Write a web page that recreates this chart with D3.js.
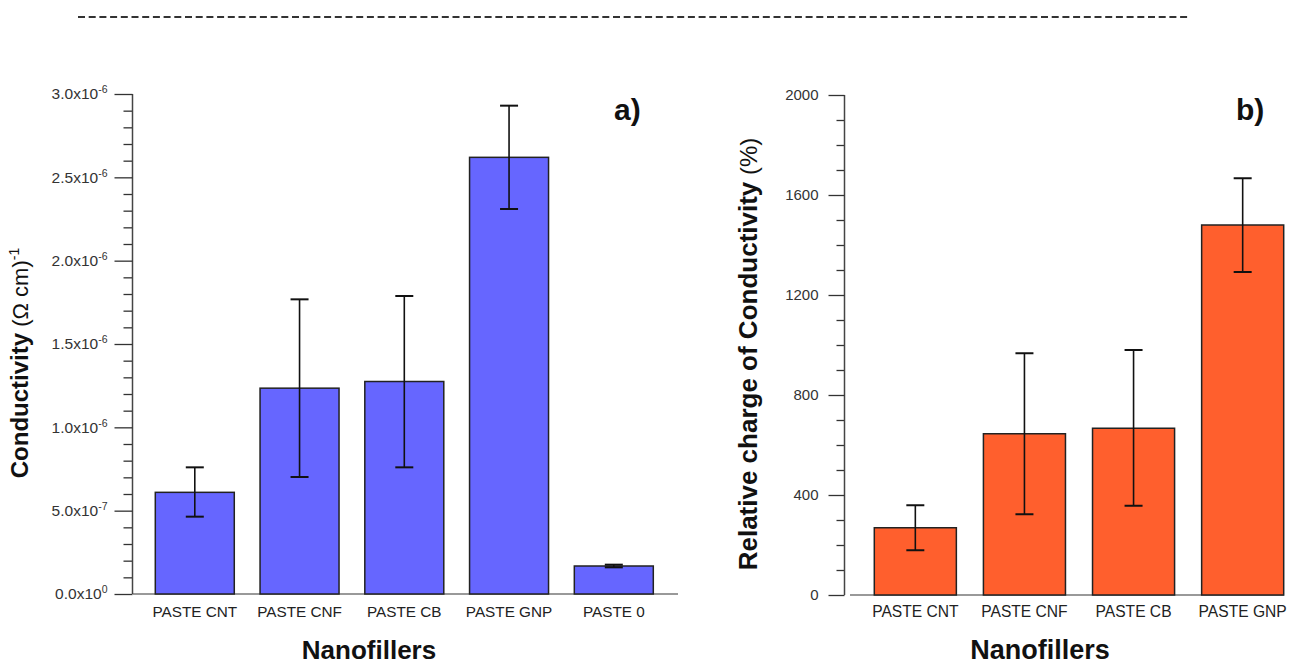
<!DOCTYPE html>
<html>
<head>
<meta charset="utf-8">
<script src="https://cdn.jsdelivr.net/npm/d3@7"></script>
<style>
  body { margin: 0; background: #fff; }
  text { font-family: Arial, "Liberation Sans", sans-serif; }
</style>
</head>
<body>
<svg id="chart" width="1299" height="666"></svg>
<script>
// panel a) conductivity
const leftCats = ["PASTE CNT", "PASTE CNF", "PASTE CB", "PASTE GNP", "PASTE 0"];
const leftVals = [0.61e-6, 1.235e-6, 1.275e-6, 2.62e-6, 0.168e-6];
const leftLow  = [0.464e-6, 0.702e-6, 0.760e-6, 2.31e-6, 0.160e-6];
const leftHigh = [0.760e-6, 1.768e-6, 1.788e-6, 2.93e-6, 0.176e-6];
const leftTicks = [0, 0.5e-6, 1.0e-6, 1.5e-6, 2.0e-6, 2.5e-6, 3.0e-6];
const leftTickBase = ["0.0x10", "5.0x10", "1.0x10", "1.5x10", "2.0x10", "2.5x10", "3.0x10"];
const leftTickExp  = ["0", "-7", "-6", "-6", "-6", "-6", "-6"];

// panel b) relative change
const rightCats = ["PASTE CNT", "PASTE CNF", "PASTE CB", "PASTE GNP"];
const rightVals = [269, 645, 667, 1480];
const rightLow  = [179, 323, 357, 1292];
const rightHigh = [359, 967, 980, 1667];
const rightTicks = [0, 400, 800, 1200, 1600, 2000];

const svg = d3.select("#chart");

// dashed separator at the top
svg.append("line")
    .attr("x1", 78).attr("x2", 1188)
    .attr("y1", 17).attr("y2", 17)
    .attr("stroke", "#333")
    .attr("stroke-width", 2)
    .attr("stroke-dasharray", "7,3.7");

function drawPanel(cfg) {
    const g = svg.append("g");

    const x = d3.scaleBand()
        .domain(cfg.cats)
        .range(cfg.xRange)
        .paddingInner(cfg.padInner)
        .paddingOuter(0);

    const y = d3.scaleLinear()
        .domain(cfg.yDomain)
        .range(cfg.yRange);

    // baseline
    g.append("line")
        .attr("x1", cfg.baseX[0]).attr("x2", cfg.baseX[1])
        .attr("y1", y(0)).attr("y2", y(0))
        .attr("stroke", "#777")
        .attr("stroke-width", 1.5);

    // minor ticks
    g.append("g")
        .attr("transform", `translate(${cfg.axisX},0)`)
        .call(d3.axisLeft(y).tickValues(cfg.minor).tickSize(cfg.minorLen).tickFormat(""))
        .call(a => a.select(".domain").remove())
        .call(a => a.selectAll("line").attr("stroke", "#333").attr("stroke-width", 1.3));

    // major ticks + labels
    const ax = g.append("g")
        .attr("transform", `translate(${cfg.axisX},0)`)
        .call(d3.axisLeft(y).tickValues(cfg.ticks).tickSize(cfg.majorLen)
            .tickPadding(cfg.labelPad).tickSizeOuter(0).tickFormat(d3.format("d")))
        .call(a => a.select(".domain").attr("stroke", "#444").attr("stroke-width", 1.5)
            .attr("d", `M0,${y(0)}V${y(cfg.yDomain[1])}`))
        .call(a => a.selectAll("line").attr("stroke", "#333").attr("stroke-width", 1.3));

    ax.attr("font-size", cfg.tickSize)
      .attr("font-family", "Arial, 'Liberation Sans', sans-serif");
    ax.selectAll("text").attr("fill", "#333");

    if (cfg.expLabels) {
        ax.selectAll(".tick text").each(function(d, i) {
            const t = d3.select(this).text("");
            t.append("tspan").text(cfg.tickBase[i]);
            t.append("tspan").attr("font-size", 10.5).attr("dy", -6).text(cfg.tickExp[i]);
        });
    }

    // bars
    g.selectAll("rect.bar")
        .data(cfg.vals)
        .join("rect")
        .attr("class", "bar")
        .attr("x", (d, i) => x(cfg.cats[i]))
        .attr("width", x.bandwidth())
        .attr("y", d => y(d))
        .attr("height", d => y(0) - y(d))
        .attr("fill", cfg.color)
        .attr("stroke", "#222")
        .attr("stroke-width", 1.5);

    // error bars
    const cap = 9;
    cfg.vals.forEach((v, i) => {
        const cx = x(cfg.cats[i]) + x.bandwidth() / 2;
        const lo = y(cfg.low[i]), hi = y(cfg.high[i]);
        g.append("line").attr("x1", cx).attr("x2", cx).attr("y1", lo).attr("y2", hi)
            .attr("stroke", "#111").attr("stroke-width", 1.6);
        [lo, hi].forEach(yy => {
            g.append("line").attr("x1", cx - cap).attr("x2", cx + cap).attr("y1", yy).attr("y2", yy)
                .attr("stroke", "#111").attr("stroke-width", 2);
        });
    });

    // category labels
    g.selectAll("text.cat")
        .data(cfg.cats)
        .join("text")
        .attr("class", "cat")
        .attr("x", d => x(d) + x.bandwidth() / 2)
        .attr("y", 617)
        .attr("text-anchor", "middle")
        .attr("font-size", cfg.catSize)
        .attr("fill", "#222")
        .text(d => d);

    // x title
    g.append("text")
        .attr("x", cfg.xTitleX)
        .attr("y", 659)
        .attr("text-anchor", "middle")
        .attr("font-size", cfg.xTitleSize)
        .attr("font-weight", "bold")
        .attr("fill", "#111")
        .text("Nanofillers");

    // y title
    const yt = g.append("text")
        .attr("transform", `translate(${cfg.yTitle.x},${cfg.yTitle.y}) rotate(-90)`)
        .attr("text-anchor", "middle")
        .attr("fill", "#111");
    yt.append("tspan").attr("font-weight", "bold").attr("font-size", cfg.yTitle.bold).text(cfg.yTitle.main);
    yt.append("tspan").attr("font-size", cfg.yTitle.reg).text(cfg.yTitle.rest);
    if (cfg.yTitle.sup) {
        yt.append("tspan").attr("font-size", 14).attr("dy", -9).text(cfg.yTitle.sup);
    }

    // panel letter
    g.append("text")
        .attr("x", cfg.letterX)
        .attr("y", 120)
        .attr("font-size", 30)
        .attr("font-weight", "bold")
        .attr("fill", "#111")
        .text(cfg.letter);
}

drawPanel({
    cats: leftCats, vals: leftVals, low: leftLow, high: leftHigh,
    xRange: [155.3, 653.3], padInner: 0.246,
    yDomain: [0, 3e-6], yRange: [594, 94],
    axisX: 132.5, baseX: [133, 678],
    ticks: leftTicks, minor: d3.range(0, 31).map(k => k * 1e-7).filter(v => Math.round(v * 1e7) % 5 !== 0),
    majorLen: 18, minorLen: 9, labelPad: 7, tickSize: 15.5,
    expLabels: true, tickBase: leftTickBase, tickExp: leftTickExp,
    color: "#6666ff", catSize: 15.3, xTitleX: 369, xTitleSize: 26,
    yTitle: { x: 28, y: 363, main: "Conductivity", rest: " (\u03A9 cm)", sup: "-1", bold: 24, reg: 22 },
    letter: "a)", letterX: 614
});

drawPanel({
    cats: rightCats, vals: rightVals, low: rightLow, high: rightHigh,
    xRange: [874.3, 1283.7], padInner: 0.248,
    yDomain: [0, 2000], yRange: [595, 95],
    axisX: 844.5, baseX: [850, 1284],
    ticks: rightTicks, minor: d3.range(100, 2000, 100).filter(v => v % 400 !== 0),
    majorLen: 16, minorLen: 8, labelPad: 10, tickSize: 15,
    expLabels: false,
    color: "#ff5f2d", catSize: 15.6, xTitleX: 1040, xTitleSize: 27,
    yTitle: { x: 757, y: 354, main: "Relative charge of Conductivity", rest: " (%)", sup: null, bold: 26, reg: 24 },
    letter: "b)", letterX: 1236
});
</script>
</body>
</html>
